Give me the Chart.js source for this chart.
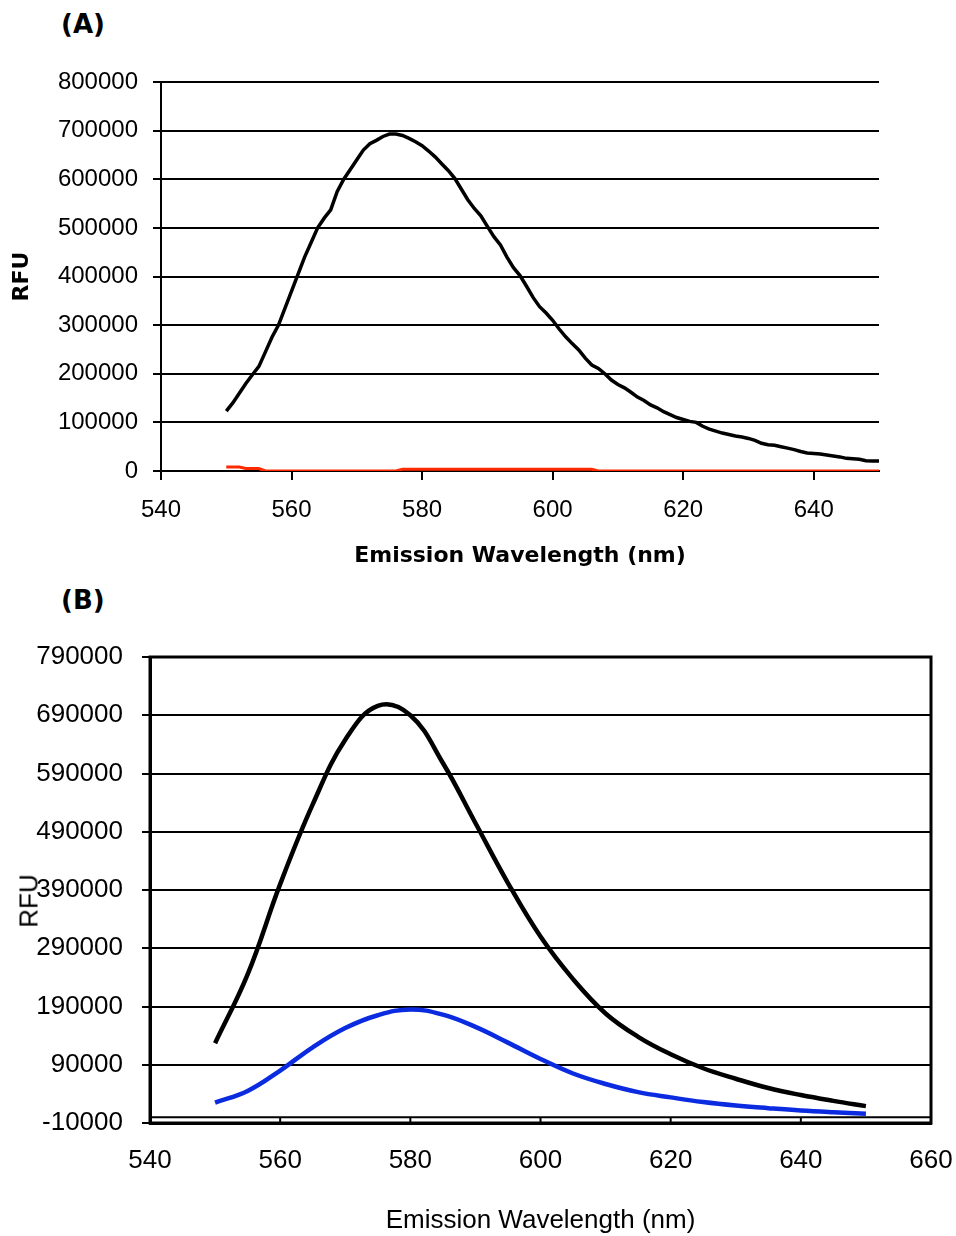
<!DOCTYPE html>
<html>
<head>
<meta charset="utf-8">
<title>Emission spectra</title>
<script src="https://cdn.jsdelivr.net/npm/chart.js@4.4.1/dist/chart.umd.min.js"></script>
<style>
  body { margin: 0; background: #fff; width: 956px; height: 1236px; position: relative; overflow: hidden; }
  .panel { position: absolute; left: 0; width: 956px; }
  #panelA { top: 0; height: 580px; }
  #panelB { top: 580px; height: 656px; }
  .tag { position: absolute; left: 61px; font: bold 26px "DejaVu Sans", sans-serif; color: #000; }
  #rfuB {
    position: absolute; left: 29px; top: 901px; white-space: nowrap;
    font: 26px "Liberation Sans", Arial, sans-serif; color: #000;
    transform: translate(-50%, -50%) rotate(-90deg);
  }
</style>
</head>
<body>
<div class="tag" style="top:9px">(A)</div>
<div class="tag" style="top:585px">(B)</div>
<div class="panel" id="panelA"><canvas id="chartA"></canvas></div>
<div class="panel" id="panelB"><canvas id="chartB"></canvas></div>
<div id="rfuB">RFU</div>
<script>
// Panel A: raw spectra, 1 nm steps
const wavelengthA = [
  550, 551, 552, 553, 554, 555, 556, 557, 558, 559,
  560, 561, 562, 563, 564, 565, 566, 567, 568, 569,
  570, 571, 572, 573, 574, 575, 576, 577, 578, 579,
  580, 581, 582, 583, 584, 585, 586, 587, 588, 589,
  590, 591, 592, 593, 594, 595, 596, 597, 598, 599,
  600, 601, 602, 603, 604, 605, 606, 607, 608, 609,
  610, 611, 612, 613, 614, 615, 616, 617, 618, 619,
  620, 621, 622, 623, 624, 625, 626, 627, 628, 629,
  630, 631, 632, 633, 634, 635, 636, 637, 638, 639,
  640, 641, 642, 643, 644, 645, 646, 647, 648, 649, 650
];
const sampleA = [
  123000, 140000, 160000, 180000, 198000, 215000, 245000, 275000, 300000, 335000,
  370000, 405000, 440000, 470000, 500000, 520000, 537000, 575000, 600000, 620000,
  640000, 660000, 673000, 680000, 688000, 693000, 693000, 690000, 684000, 677000,
  669000, 658000, 646000, 632000, 618000, 602000, 580000, 558000, 540000, 525000,
  503000, 482000, 465000, 440000, 418000, 402000, 380000, 357000, 338000, 325000,
  310000, 292000, 276000, 262000, 249000, 232000, 218000, 211000, 200000, 187000,
  178000, 171000, 162000, 152000, 145000, 136000, 130000, 122000, 116000, 110000,
  106000, 102000, 100000, 92000, 86000, 82000, 78000, 75000, 72000, 70000,
  67000, 63000, 57000, 54000, 53000, 50000, 47000, 44000, 40000, 37000,
  36000, 35000, 33000, 31000, 29000, 26000, 25000, 24000, 21000, 20500, 20500
];
const blankA = [
  8000, 8000, 8000, 5000, 5000, 5000, 0, 0, 0, 0,
  0, 0, 0, 0, 0, 0, 0, 0, 0, 0,
  0, 0, 0, 0, 0, 0, 0, 3500, 3500, 3500,
  3500, 3500, 3500, 3500, 3500, 3500, 3500, 3500, 3500, 3500,
  3500, 3500, 3500, 3500, 3500, 3500, 3500, 3500, 3500, 3500,
  3500, 3500, 3500, 3500, 3500, 3500, 3500, 0, 0, 0,
  0, 0, 0, 0, 0, 0, 0, 0, 0, 0,
  0, 0, 0, 0, 0, 0, 0, 0, 0, 0,
  0, 0, 0, 0, 0, 0, 0, 0, 0, 0,
  0, 0, 0, 0, 0, 0, 0, 0, 0, 0, 0
];
const xTicksA = [540, 560, 580, 600, 620, 640];
const yTicksA = [0, 100000, 200000, 300000, 400000, 500000, 600000, 700000, 800000];

// Panel B: smoothed spectra, 5 nm steps
const wavelengthB = [550, 555, 560, 565, 570, 575, 580, 585, 590, 595, 600,
                     605, 610, 615, 620, 625, 630, 635, 640, 645, 650];
const sampleB = [127000, 245000, 400000, 537000, 648000, 706000, 690000, 608000, 505000, 402000, 310000,
                 237000, 178000, 138000, 108000, 84000, 66000, 50000, 38000, 28000, 19000];
const boundB = [25000, 45000, 80000, 120000, 153000, 175000, 185000, 176000, 155000, 128000, 100000,
                75000, 57000, 43000, 34000, 26000, 20000, 15500, 11500, 8500, 6000];
const xTicksB = [540, 560, 580, 600, 620, 640, 660];
const yTicksB = [-10000, 90000, 190000, 290000, 390000, 490000, 590000, 690000, 790000];

const toPoints = (xs, ys) => xs.map((x, i) => ({ x: x, y: ys[i] }));
const tickFont = (size) => ({ family: '"Liberation Sans", Arial, sans-serif', size: size });
const plain = (value) => String(value); // no thousands separators

// box round panel B, its zero line and the stubs of the category ticks
const frameB = {
  id: 'frameB',
  beforeDatasetsDraw(chart) {
    const { ctx, chartArea: a, scales } = chart;
    const y0 = scales.y.getPixelForValue(0);
    ctx.save();
    ctx.strokeStyle = '#000';
    ctx.lineWidth = 2;
    ctx.beginPath();
    ctx.moveTo(a.left, y0);
    ctx.lineTo(a.right, y0);
    scales.x.ticks.forEach((t) => {
      const px = scales.x.getPixelForValue(t.value);
      ctx.moveTo(px, y0);
      ctx.lineTo(px, a.bottom + 2);
    });
    ctx.stroke();
    ctx.lineWidth = 3;
    ctx.strokeRect(a.left, a.top, a.right - a.left, a.bottom - a.top);
    ctx.restore();
  }
};

new Chart(document.getElementById('chartA'), {
  type: 'line',
  data: {
    datasets: [
      {
        data: toPoints(wavelengthA, blankA),
        borderColor: '#ff2a00',
        borderWidth: 3,
        pointRadius: 0,
        tension: 0
      },
      {
        data: toPoints(wavelengthA, sampleA),
        borderColor: '#000',
        borderWidth: 3.5,
        pointRadius: 0,
        tension: 0
      }
    ]
  },
  options: {
    responsive: true,
    maintainAspectRatio: false,
    animation: false,
    layout: { padding: { top: 82, right: 77, left: 0, bottom: 0 } },
    plugins: { legend: { display: false }, tooltip: { enabled: false } },
    scales: {
      x: {
        type: 'linear',
        min: 540,
        max: 650,
        afterBuildTicks: (s) => { s.ticks = xTicksA.map((v) => ({ value: v })); },
        afterFit: (s) => { s.height = 109; },
        ticks: { color: '#000', font: tickFont(24), padding: 16, callback: plain },
        grid: { drawOnChartArea: false, drawTicks: true, tickLength: 9, color: '#000', lineWidth: 2 },
        border: { display: true, color: '#000', width: 2 },
        title: {
          display: true,
          text: 'Emission Wavelength (nm)',
          color: '#000',
          font: { family: '"DejaVu Sans", sans-serif', size: 22, weight: 'bold' },
          padding: { top: 0, bottom: 11 }
        }
      },
      y: {
        min: 0,
        max: 800000,
        afterBuildTicks: (s) => { s.ticks = yTicksA.map((v) => ({ value: v })); },
        afterFit: (s) => { s.width = 161; },
        ticks: { color: '#000', font: tickFont(24), padding: 15, callback: plain },
        grid: { color: '#000', lineWidth: 2, tickLength: 8 },
        border: { display: true, color: '#000', width: 2 },
        title: {
          display: true,
          text: 'RFU',
          color: '#000',
          font: { family: '"DejaVu Sans", sans-serif', size: 22, weight: 'bold' },
          padding: { top: 9, bottom: 0 }
        }
      }
    }
  }
});

new Chart(document.getElementById('chartB'), {
  type: 'line',
  data: {
    datasets: [
      {
        data: toPoints(wavelengthB, boundB),
        borderColor: '#0b2be0',
        borderWidth: 4.5,
        pointRadius: 0,
        tension: 0.4
      },
      {
        data: toPoints(wavelengthB, sampleB),
        borderColor: '#000',
        borderWidth: 4.5,
        pointRadius: 0,
        tension: 0.4
      }
    ]
  },
  options: {
    responsive: true,
    maintainAspectRatio: false,
    animation: false,
    layout: { padding: { top: 77, right: 25, left: 0, bottom: 0 } },
    plugins: { legend: { display: false }, tooltip: { enabled: false } },
    scales: {
      x: {
        type: 'linear',
        min: 540,
        max: 660,
        afterBuildTicks: (s) => { s.ticks = xTicksB.map((v) => ({ value: v })); },
        // the last label may hang past the frame; keep the frame at the fixed right margin
        afterFit: (s) => { s.height = 113; s.paddingRight = 0; },
        ticks: { color: '#000', font: tickFont(26), padding: 20, callback: plain },
        grid: { drawOnChartArea: false, drawTicks: true, tickLength: 2, color: '#000', lineWidth: 2 },
        border: { display: true, color: '#000', width: 3 },
        title: {
          display: true,
          text: 'Emission Wavelength (nm)',
          color: '#000',
          font: tickFont(26),
          padding: { top: 0, bottom: 0 }
        }
      },
      y: {
        min: -10000,
        max: 790000,
        afterBuildTicks: (s) => { s.ticks = yTicksB.map((v) => ({ value: v })); },
        afterFit: (s) => { s.width = 150; },
        ticks: { color: '#000', font: tickFont(26), padding: 19, callback: plain },
        grid: { color: '#000', lineWidth: 2, tickLength: 8 },
        border: { display: true, color: '#000', width: 3 }
      }
    }
  },
  plugins: [frameB]
});
</script>
</body>
</html>
